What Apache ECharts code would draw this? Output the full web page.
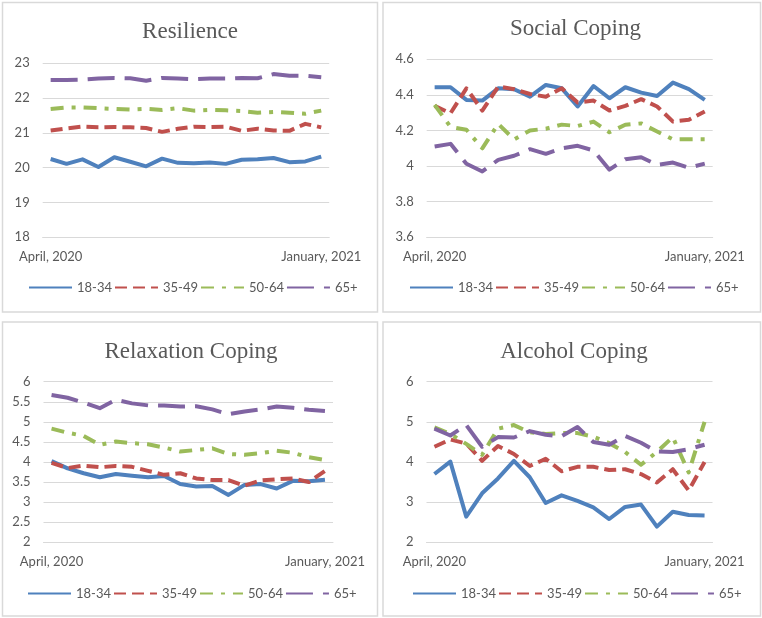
<!DOCTYPE html>
<html>
<head>
<meta charset="utf-8">
<script src="https://cdn.jsdelivr.net/npm/echarts@6/dist/echarts.min.js"></script>
<style>
html,body{margin:0;padding:0;background:#fff;}
#c{width:762px;height:618px;}
</style>
</head>
<body>
<div id="c"></div>
<script>
// ---- data ----
const xLabels = ['April, 2020','','','','','','','','','','','','','','','','','January, 2021'];
const groups = ['18-34','35-49','50-64','65+'];
const panelTitles = ['Resilience','Social Coping','Relaxation Coping','Alcohol Coping'];

const resilience18 = [20.25,20.11,20.24,20.02,20.30,20.17,20.04,20.26,20.14,20.13,20.15,20.11,20.23,20.24,20.28,20.16,20.18,20.32];
const resilience35 = [21.07,21.13,21.18,21.16,21.17,21.16,21.14,21.03,21.12,21.18,21.17,21.18,21.06,21.12,21.07,21.06,21.26,21.16];
const resilience50 = [21.69,21.73,21.73,21.71,21.69,21.67,21.69,21.66,21.71,21.64,21.66,21.65,21.63,21.58,21.60,21.58,21.55,21.64];
const resilience65 = [22.52,22.52,22.53,22.56,22.58,22.57,22.50,22.58,22.56,22.54,22.56,22.56,22.58,22.57,22.69,22.64,22.64,22.60];

const social18 = [4.443,4.443,4.372,4.368,4.437,4.432,4.390,4.456,4.437,4.335,4.450,4.381,4.443,4.413,4.394,4.469,4.432,4.372];
const social35 = [4.338,4.297,4.437,4.312,4.447,4.432,4.405,4.390,4.437,4.357,4.368,4.312,4.338,4.376,4.335,4.250,4.260,4.307];
const social50 = [4.344,4.220,4.204,4.100,4.237,4.150,4.200,4.210,4.233,4.225,4.250,4.190,4.232,4.240,4.194,4.150,4.151,4.151];
const social65 = [4.110,4.125,4.013,3.970,4.035,4.058,4.095,4.069,4.100,4.114,4.088,3.980,4.039,4.050,4.007,4.020,3.990,4.014];

const relax18 = [4.02,3.84,3.72,3.62,3.70,3.66,3.62,3.65,3.45,3.39,3.40,3.18,3.43,3.45,3.34,3.53,3.52,3.56];
const relax35 = [3.98,3.85,3.91,3.87,3.90,3.88,3.78,3.68,3.72,3.59,3.55,3.55,3.41,3.54,3.57,3.59,3.50,3.78];
const relax50 = [4.83,4.73,4.65,4.43,4.51,4.47,4.44,4.36,4.26,4.30,4.34,4.20,4.18,4.22,4.28,4.23,4.12,4.05];
const relax65 = [5.67,5.60,5.48,5.34,5.55,5.46,5.41,5.41,5.38,5.39,5.31,5.19,5.26,5.31,5.38,5.35,5.30,5.27];

const alcohol18 = [3.70,4.01,2.64,3.22,3.59,4.03,3.62,2.98,3.17,3.03,2.87,2.58,2.88,2.94,2.39,2.76,2.68,2.67];
const alcohol35 = [4.38,4.56,4.46,4.03,4.40,4.20,3.90,4.08,3.77,3.88,3.88,3.80,3.82,3.70,3.49,3.82,3.29,4.00];
const alcohol50 = [4.86,4.70,4.45,4.18,4.83,4.92,4.74,4.70,4.72,4.72,4.63,4.47,4.25,3.93,4.25,4.62,3.74,5.00];
const alcohol65 = [4.83,4.66,4.92,4.38,4.62,4.61,4.77,4.68,4.64,4.87,4.50,4.43,4.65,4.48,4.26,4.25,4.32,4.43];

const yMin = [18, 3.6, 2, 2];
const yMax = [23, 4.6, 6, 6];
const yStep = [1, 0.2, 0.5, 1];

const panelSeries = [
  [resilience18, resilience35, resilience50, resilience65],
  [social18, social35, social50, social65],
  [relax18, relax35, relax50, relax65],
  [alcohol18, alcohol35, alcohol50, alcohol65]
];

// ---- styles / layout ----
const colors = ['#4F81BD','#C0504D','#9BBB59','#8064A2'];
const dashes = ['solid',[12,6],[13,8,4,8],[27,10]];
const txt = '#595959';
const font = 'Lato';
const panels = [
  {x:2.5,y:2.5,w:375,h:309.5, grid:{left:42.7,top:63.3,width:286.5,height:174}, title:{cx:190,top:20}, legend:{left:28,top:281}},
  {x:383,y:2.5,w:377.5,h:309.5, grid:{left:426.7,top:59.3,width:286,height:178}, title:{cx:575.5,top:17}, legend:{left:409,top:281}},
  {x:2.5,y:322,w:375,h:294, grid:{left:43.5,top:381.7,width:289.5,height:160.6}, title:{cx:191,top:340}, legend:{left:27,top:587}},
  {x:383,y:322,w:377.5,h:294, grid:{left:426.5,top:381.7,width:286,height:160.6}, title:{cx:574,top:340}, legend:{left:412,top:587}}
];

const option = {
  animation:false,
  backgroundColor:'#fff',
  title:[], grid:[], xAxis:[], yAxis:[], legend:[], series:[],
  graphic: panels.map(p => ({
    type:'rect', shape:{x:p.x,y:p.y,width:p.w,height:p.h},
    style:{fill:'none',stroke:'#d9d9d9',lineWidth:1.5}, silent:true, z:-1
  }))
};

panels.forEach((p, k) => {
  option.title.push({
    text: panelTitles[k], left: p.title.cx, top: p.title.top, textAlign:'center', padding:0,
    textStyle:{fontFamily:'Liberation Serif', fontSize:23, fontWeight:'normal', color:txt}
  });
  option.grid.push(Object.assign({containLabel:false}, p.grid));
  option.xAxis.push({
    type:'category', gridIndex:k, data:xLabels, boundaryGap:true,
    axisLine:{show:true,lineStyle:{color:'#d9d9d9',width:1}},
    axisTick:{show:false},
    axisLabel:{interval:0, color:txt, fontFamily:font, fontSize:13, margin:13, hideOverlap:false}
  });
  option.yAxis.push({
    type:'value', gridIndex:k, min:yMin[k], max:yMax[k], interval:yStep[k],
    axisLine:{show:false}, axisTick:{show:false},
    axisLabel:{color:txt, fontFamily:font, fontSize:13, margin:13},
    splitLine:{lineStyle:{color:'#d9d9d9',width:1}}
  });
  option.legend.push({
    data: groups, left:p.legend.left, top:p.legend.top, orient:'horizontal',
    width:360, padding:0,
    itemWidth:43, itemHeight:14, itemGap:2,
    textStyle:{color:txt, fontFamily:font, fontSize:13},
    itemStyle:{opacity:0}
  });
  panelSeries[k].forEach((vals, j) => {
    option.series.push({
      type:'line', name:groups[j], xAxisIndex:k, yAxisIndex:k, data:vals,
      symbol:'none', smooth:false,
      lineStyle:{color:colors[j], width:4, type:dashes[j], cap:'butt', join:'round'},
      itemStyle:{color:colors[j]}
    });
  });
});

const chart = echarts.init(document.getElementById('c'), null, {renderer:'canvas'});
chart.setOption(option);
</script>
</body>
</html>
